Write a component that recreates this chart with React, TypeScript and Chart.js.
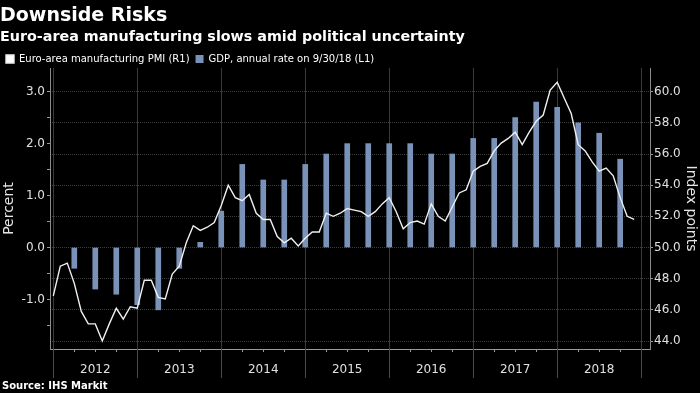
import React, { useEffect, useRef } from 'react';
import { Chart, registerables } from 'chart.js';

Chart.register(...registerables);

// Euro-area manufacturing PMI, monthly, Dec 2011 .. Nov 2018 (plotted at month end)
const pmiValues = [
  46.9,
  48.8, 49.0, 47.7, 45.9, 45.1, 45.1, 44.0, 45.1, 46.1, 45.4, 46.2, 46.1,
  47.9, 47.9, 46.8, 46.7, 48.3, 48.8, 50.3, 51.4, 51.1, 51.3, 51.6, 52.7,
  54.0, 53.2, 53.0, 53.4, 52.2, 51.8, 51.8, 50.7, 50.3, 50.6, 50.1, 50.6,
  51.0, 51.0, 52.2, 52.0, 52.2, 52.5, 52.4, 52.3, 52.0, 52.3, 52.8, 53.2,
  52.3, 51.2, 51.6, 51.7, 51.5, 52.8, 52.0, 51.7, 52.6, 53.5, 53.7, 54.9,
  55.2, 55.4, 56.2, 56.7, 57.0, 57.4, 56.6, 57.4, 58.1, 58.5, 60.1, 60.6,
  59.6, 58.6, 56.6, 56.2, 55.5, 54.9, 55.1, 54.6, 53.2, 52.0, 51.8,
];

// GDP annual rate, quarterly, Q1 2012 .. Q3 2018 (plotted at quarter end)
const gdpValues = [
  -0.4, -0.8, -0.9, -1.1,
  -1.2, -0.4, 0.1, 0.7,
  1.6, 1.3, 1.3, 1.6,
  1.8, 2.0, 2.0, 2.0,
  2.0, 1.8, 1.8, 2.1,
  2.1, 2.5, 2.8, 2.7,
  2.4, 2.2, 1.7,
];

const yearLabels = ['2012', '2013', '2014', '2015', '2016', '2017', '2018'];

const leftMin = -1.954;
const leftMax = 3.456;
const rightMin = 50 + (leftMin * 10) / 3;
const rightMax = 50 + (leftMax * 10) / 3;

const FONT = "'DejaVu Sans', sans-serif";

const yearLinesPlugin = {
  id: 'yearLines',
  afterDraw(chart: any) {
    const { ctx, chartArea, scales } = chart;
    const x = scales.x;
    ctx.save();
    ctx.strokeStyle = '#4a4a4a';
    ctx.lineWidth = 1;
    for (let i = 0; i <= yearLabels.length; i++) {
      const px = Math.round(x.getPixelForValue(i * 12)) + 0.5;
      ctx.beginPath();
      ctx.moveTo(px, chartArea.bottom);
      ctx.lineTo(px, chartArea.bottom + 29);
      ctx.stroke();
    }
    ctx.restore();
  },
};

export default function App() {
  const canvasRef = useRef<HTMLCanvasElement | null>(null);

  useEffect(() => {
    if (!canvasRef.current) return;
    const chart = new Chart(canvasRef.current, {
      type: 'bar',
      data: {
        datasets: [
          {
            type: 'line',
            label: 'Euro-area manufacturing PMI (R1)',
            data: pmiValues.map((v, j) => ({ x: j, y: v })),
            yAxisID: 'y1',
            borderColor: '#f0f0f0',
            backgroundColor: '#ffffff',
            borderWidth: 1.4,
            pointRadius: 0,
            tension: 0,
            order: 1,
          } as any,
          {
            type: 'bar',
            label: 'GDP, annual rate on 9/30/18 (L1)',
            data: gdpValues.map((v, i) => ({ x: 3 * (i + 1), y: v })),
            yAxisID: 'y',
            backgroundColor: '#7a92b7',
            borderWidth: 0,
            barThickness: 5,
            order: 2,
          } as any,
        ],
      },
      options: {
        responsive: false,
        animation: false,
        devicePixelRatio: 1,
        events: [],
        layout: { padding: { top: 48, left: 0, right: 0, bottom: 0 } },
        plugins: {
          legend: {
            position: 'top',
            align: 'start',
            maxHeight: 20,
            labels: {
              boxWidth: 8,
              boxHeight: 8,
              padding: 6,
              color: '#ffffff',
              font: { family: FONT, size: 10 },
            },
          },
          tooltip: { enabled: false },
          title: { display: false },
        },
        scales: {
          x: {
            type: 'linear',
            min: -0.47,
            max: 85.26,
            offset: false,
            afterBuildTicks: (s: any) => {
              const t = [];
              for (let m = 0; m <= yearLabels.length * 12; m += 3) t.push({ value: m });
              s.ticks = t;
            },
            afterFit: (s: any) => {
              s.height = 44;
            },
            ticks: {
              autoSkip: false,
              maxRotation: 0,
              padding: 11,
              color: '#e0e0e0',
              font: { family: FONT, size: 12 },
              callback: (v: any) => {
                const n = Number(v);
                return n % 12 === 6 ? yearLabels[(n - 6) / 12] : '';
              },
            },
            grid: {
              offset: false,
              color: (c: any) => (c.tick && c.tick.value % 12 === 0 ? '#3a3a3a' : 'rgba(0,0,0,0)'),
              tickColor: '#9a9a9a',
              tickLength: 3,
              lineWidth: 1,
            },
            border: { color: '#9a9a9a' },
          },
          y: {
            type: 'linear',
            position: 'left',
            min: leftMin,
            max: leftMax,
            afterBuildTicks: (s: any) => {
              const t = [];
              for (let k = -3; k <= 6; k++) t.push({ value: k / 2 });
              s.ticks = t;
            },
            afterFit: (s: any) => {
              s.width = 50;
            },
            ticks: {
              padding: 2,
              color: '#e0e0e0',
              font: { family: FONT, size: 12 },
              callback: (v: any) => {
                const n = Number(v);
                return Number.isInteger(n) ? n.toFixed(1) : '';
              },
            },
            grid: {
              drawOnChartArea: false,
              tickColor: '#9a9a9a',
              tickLength: 3,
            },
            border: { color: '#8a8a8a' },
            title: {
              display: true,
              text: 'Percent',
              color: '#e6e6e6',
              font: { family: FONT, size: 14 },
              padding: { top: 0.6, bottom: 0 },
            },
          },
          y1: {
            type: 'linear',
            position: 'right',
            min: rightMin,
            max: rightMax,
            afterBuildTicks: (s: any) => {
              const t = [];
              for (let k = 44; k <= 61; k++) t.push({ value: k });
              s.ticks = t;
            },
            afterFit: (s: any) => {
              s.width = 50;
            },
            ticks: {
              padding: 1,
              color: '#e0e0e0',
              font: { family: FONT, size: 12 },
              callback: (v: any) => {
                const n = Number(v);
                return n % 2 === 0 ? n.toFixed(1) : '';
              },
            },
            grid: {
              drawOnChartArea: true,
              color: (c: any) => (c.tick && c.tick.value % 2 === 0 ? '#3e3e3e' : 'rgba(0,0,0,0)'),
              tickColor: '#9a9a9a',
              tickLength: 3,
            },
            border: { color: '#8a8a8a', dash: [1, 1] },
            title: {
              display: true,
              text: 'Index points',
              color: '#e6e6e6',
              font: { family: FONT, size: 14 },
              padding: { top: 0.6, bottom: 0 },
            },
          },
        },
      } as any,
      plugins: [yearLinesPlugin],
    });
    return () => chart.destroy();
  }, []);

  return (
    <div
      style={{
        position: 'fixed',
        left: 0,
        top: 0,
        width: 700,
        height: 393,
        background: '#000',
        overflow: 'hidden',
      }}
    >
      <canvas
        ref={canvasRef}
        width={700}
        height={393}
        style={{ position: 'absolute', left: 0, top: 0, width: 700, height: 393 }}
      />
      <div
        style={{
          position: 'absolute',
          left: 0,
          top: 5,
          fontFamily: FONT,
          fontWeight: 'bold',
          fontSize: 19,
          lineHeight: 1,
          color: '#fff',
          whiteSpace: 'nowrap',
        }}
      >
        Downside Risks
      </div>
      <div
        style={{
          position: 'absolute',
          left: 0,
          top: 29,
          fontFamily: FONT,
          fontWeight: 'bold',
          fontSize: 14.3,
          lineHeight: 1,
          color: '#fff',
          whiteSpace: 'nowrap',
        }}
      >
        Euro-area manufacturing slows amid political uncertainty
      </div>
      <div
        style={{
          position: 'absolute',
          left: 2,
          top: 381,
          fontFamily: FONT,
          fontWeight: 'bold',
          fontSize: 10,
          lineHeight: 1,
          color: '#fff',
          whiteSpace: 'nowrap',
        }}
      >
        Source: IHS Markit
      </div>
    </div>
  );
}
